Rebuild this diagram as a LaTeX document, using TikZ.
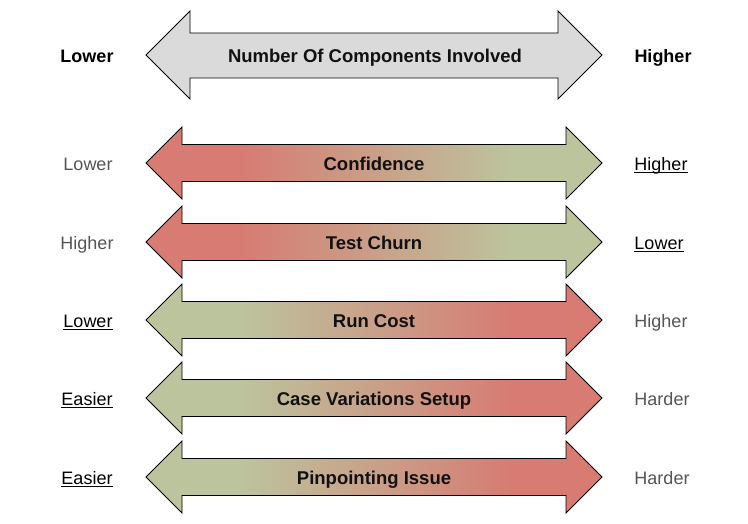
\documentclass[tikz,border=0pt]{standalone}
\usepackage{fontspec}
\setmainfont{Liberation Sans}
\definecolor{cred}{HTML}{D77B73}
\definecolor{cgreen}{HTML}{BCC49E}
\definecolor{cgray}{HTML}{DADADA}
\definecolor{lgray}{HTML}{555555}
\definecolor{tblack}{HTML}{111111}
\newcommand\myul[1]{\underline{\smash{#1}}}
\newcommand\gradarrow[4]{% #1 y, #2 name, #3 left colour, #4 right colour
  \begin{scope}
    \clip (146,#1) -- (182,#1-36) -- (182,#1-18.5) -- (566,#1-18.5) -- (566,#1-36) -- (602,#1)
      -- (566,#1+36) -- (566,#1+18.5) -- (182,#1+18.5) -- (182,#1+36) -- cycle;
    \fill[#3] (140,#1-40) rectangle (240,#1+40);
    \shade[left color=#3,right color=#4] (240,#1-40) rectangle (513,#1+40);
    \fill[#4] (513,#1-40) rectangle (610,#1+40);
  \end{scope}
  \draw[arrowline] (146,#1) -- (182,#1-36) -- (182,#1-18.5) -- (566,#1-18.5) -- (566,#1-36) -- (602,#1)
      -- (566,#1+36) -- (566,#1+18.5) -- (182,#1+18.5) -- (182,#1+36) -- cycle;
}
\begin{document}
\begin{tikzpicture}[x=1pt,y=-1pt,
  arrowline/.style={draw=black,line width=0.8pt,line join=miter},
  base/.style={inner sep=0pt,text height=13.2pt,text depth=0pt},
  intext/.style={base,font=\fontsize{18.5}{21}\selectfont\bfseries,text=tblack},
  lbl/.style={base,font=\fontsize{18}{21}\selectfont,text=lgray},
  ulbl/.style={base,font=\fontsize{18}{21}\selectfont,text=black},
  blbl/.style={base,font=\fontsize{18}{21}\selectfont\bfseries,text=black}]
\useasboundingbox[fill=white] (0,0) rectangle (748,524);
% top arrow
\draw[arrowline,fill=cgray] (146,55) -- (190,11) -- (190,33) -- (558,33) -- (558,11) -- (602,55)
  -- (558,99) -- (558,78) -- (190,78) -- (190,99) -- cycle;
\node[intext] (t0) at (375,56) {Number Of Components Involved};
\node[blbl] (l0) at (87,56) {Lower};
\node[blbl] (r0) at (663,56) {Higher};
% rows
\gradarrow{163}{a1}{cred}{cgreen}
\node[intext] (t1) at (374,164) {Confidence};
\node[lbl] (l1) at (88,164) {Lower};
\node[ulbl] (r1) at (661,164) {\myul{Higher}};
\gradarrow{242}{a2}{cred}{cgreen}
\node[intext] (t2) at (374,243) {Test Churn};
\node[lbl] (l2) at (87,243) {Higher};
\node[ulbl] (r2) at (659,243) {\myul{Lower}};
\gradarrow{320}{a3}{cgreen}{cred}
\node[intext] (t3) at (374,321) {Run Cost};
\node[ulbl] (l3) at (88,321) {\myul{Lower}};
\node[lbl] (r3) at (661,321) {Higher};
\gradarrow{398}{a4}{cgreen}{cred}
\node[intext] (t4) at (374,399) {Case Variations Setup};
\node[ulbl] (l4) at (87,399) {\myul{Easier}};
\node[lbl] (r4) at (662,399) {Harder};
\gradarrow{477}{a5}{cgreen}{cred}
\node[intext] (t5) at (374,478) {Pinpointing Issue};
\node[ulbl] (l5) at (87,478) {\myul{Easier}};
\node[lbl] (r5) at (662,478) {Harder};
\end{tikzpicture}
\end{document}
